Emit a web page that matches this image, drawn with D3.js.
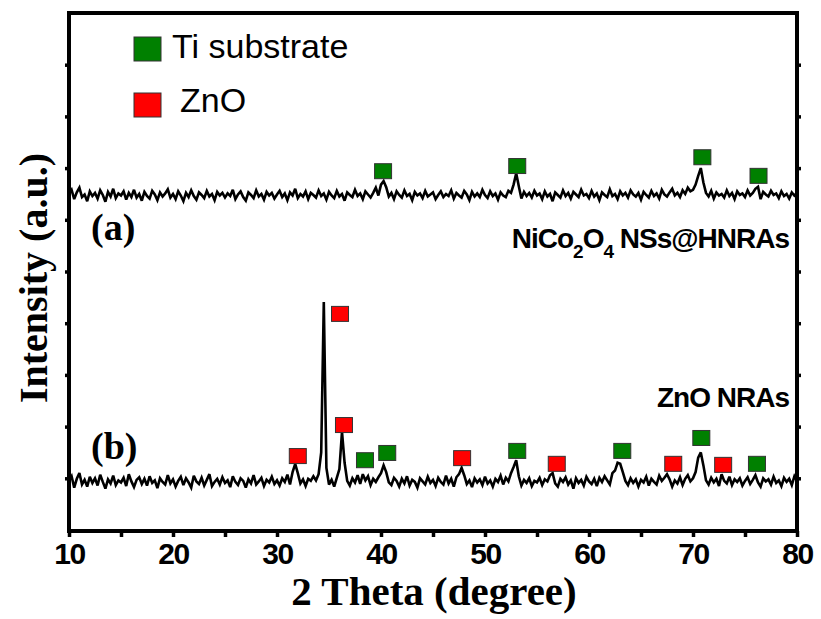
<!DOCTYPE html>
<html>
<head>
<meta charset="utf-8">
<script src="https://cdn.jsdelivr.net/npm/d3@7"></script>
<style>
  body { margin: 0; background: #fff; }
  svg { display: block; }
</style>
</head>
<body>
<div class="visHolder"></div>
<script>
var width = 821,
    height = 619;

// 2 theta from 10 to 80, step 0.25
var thetaStart = 10, thetaStep = 0.25;

// (b) ZnO NRAs, arbitrary units (offset plotted)
var zno = [
  95,104,82,99,110,88,97,84,103,91,100,86,107,93,80,98,90,105,87,96,
  92,101,85,108,94,83,97,102,89,99,86,104,91,96,81,100,93,88,106,90,
  98,84,95,103,87,100,92,82,105,94,89,101,86,97,108,85,93,99,88,102,
  91,96,83,104,93,87,100,95,82,98,90,106,88,94,101,85,97,92,103,89,
  96,86,100,93,107,88,112,128,110,90,98,85,99,95,104,96,108,150,441,120,
  88,97,84,101,118,190,130,95,86,100,92,106,89,108,96,104,87,99,93,102,
  110,125,112,92,87,101,95,84,99,90,104,86,97,93,82,100,94,88,103,91,
  97,85,101,93,88,105,90,99,84,102,108,120,106,89,96,83,100,92,98,87,
  103,90,96,84,99,93,105,88,101,94,110,122,135,104,86,97,91,100,85,95,
  92,101,87,98,94,106,110,90,84,99,93,102,88,96,80,100,91,97,86,103,
  94,89,99,85,101,93,104,96,88,110,115,130,128,112,95,87,100,91,98,84,
  97,92,103,86,99,93,88,105,95,101,108,98,84,96,90,102,87,99,106,94,
  100,112,140,150,125,96,88,101,92,99,85,108,95,90,103,87,98,93,100,86,
  95,102,89,97,106,92,84,100,94,98,88,103,91,96,85,101,93,99,87,104,95
];

// (a) NiCo2O4 NSs@HNRAs
var nico = [
  650,658,640,653,662,644,649,636,655,646,652,641,657,648,635,654,645,660,642,651,
  647,655,639,652,644,658,643,650,637,654,646,641,656,649,638,653,645,651,659,643,
  650,640,655,647,636,652,644,657,646,639,653,648,642,656,645,650,638,654,647,652,
  643,651,646,658,640,649,655,644,637,653,648,642,657,645,650,639,654,647,652,641,
  649,656,644,651,638,653,647,660,642,650,645,655,640,652,648,643,657,646,651,639,
  654,647,642,656,645,650,637,653,648,644,658,646,651,640,655,649,643,652,662,647,
  668,675,663,645,652,640,655,648,643,657,646,650,638,654,647,651,642,656,645,649,
  653,640,648,655,644,650,646,657,641,652,647,643,656,649,638,654,645,651,644,658,
  648,642,655,646,651,639,653,647,644,656,652,668,690,665,641,654,646,652,643,656,
  647,651,640,655,645,650,636,653,648,643,657,646,652,641,654,649,644,658,647,650,
  642,656,645,651,638,653,648,644,659,646,650,640,655,647,652,643,657,649,645,652,
  639,654,648,643,656,646,651,641,658,649,645,653,660,647,652,644,657,650,662,655,
  658,668,685,700,672,652,645,656,641,653,647,650,643,657,646,652,640,655,648,651,
  644,657,647,652,660,664,640,654,649,645,656,648,651,642,655,646,650,641,653,647,652
];

// peak markers
var markTheta = [40.2, 53.1, 70.9, 76.3,
                 32.0, 36.06, 36.44, 38.46, 40.6, 47.8, 53.1, 56.9, 63.2, 68.1, 70.8, 72.9, 76.15];
var markLevel = [694, 704, 721, 685,
                 143, 418, 203, 135, 149, 139, 153, 128, 153, 128, 178, 126, 128];
var markPhase = ['Ti','Ti','Ti','Ti',
                 'ZnO','ZnO','ZnO','Ti','Ti','ZnO','Ti','ZnO','Ti','ZnO','Ti','ZnO','Ti'];

var legendNames = ['Ti substrate', 'ZnO'];
var phaseColor = { 'Ti': '#008000', 'ZnO': '#ff0000' };
var xTicks = [10, 15, 20, 25, 30, 35, 40, 45, 50, 55, 60, 65, 70, 75, 80];
var yTicks = [100, 200, 300, 400, 500, 600, 700, 800, 900];

var svg = d3.select('.visHolder')
  .append('svg')
  .attr('width', width)
  .attr('height', height);

var xScale = d3.scaleLinear().domain([10, 80]).range([69, 797]);
var yScale = d3.scaleLinear().domain([0, 1000]).range([530, 13]);

function toPoints(arr) {
  return arr.map(function (v, i) { return [thetaStart + i * thetaStep, v]; });
}

var line = d3.line()
  .x(function (d) { return xScale(d[0]); })
  .y(function (d) { return yScale(d[1]); });

[zno, nico].forEach(function (s) {
  svg.append('path')
    .datum(toPoints(s))
    .attr('d', line)
    .attr('fill', 'none')
    .attr('stroke', '#000')
    .attr('stroke-width', 2.6)
    .attr('stroke-linejoin', 'miter')
    .attr('stroke-miterlimit', 3);
});

// markers
svg.selectAll('rect.mark')
  .data(markTheta)
  .enter()
  .append('rect')
  .attr('class', 'mark')
  .attr('x', function (d) { return xScale(d) - 8.5; })
  .attr('y', function (d, i) { return yScale(markLevel[i]) - 7.5; })
  .attr('width', 17)
  .attr('height', 15)
  .attr('fill', function (d, i) { return phaseColor[markPhase[i]]; })
  .attr('stroke', '#333')
  .attr('stroke-width', 1);

// axes
var xAxis = d3.axisBottom(xScale)
  .tickValues(xTicks)
  .tickSize(6)
  .tickFormat(function (d) { return d % 10 === 0 ? d : ''; });

var gx = svg.append('g')
  .attr('id', 'x-axis')
  .attr('transform', 'translate(0,531)')
  .call(xAxis);

var yl = svg.append('g')
  .attr('transform', 'translate(69,0)')
  .call(d3.axisLeft(yScale).tickValues(yTicks).tickSize(4).tickFormat(''));
var yr = svg.append('g')
  .attr('transform', 'translate(797,0)')
  .call(d3.axisRight(yScale).tickValues(yTicks).tickSize(4).tickFormat(''));

[gx, yl, yr].forEach(function (g) {
  g.select('.domain').remove();
  g.selectAll('line').attr('stroke', '#000').attr('stroke-width', 3.5);
});
gx.selectAll('text')
  .attr('fill', '#000')
  .attr('dy', '0.71em')
  .attr('y', 12)
  .style('font-family', '"Liberation Sans", Arial, sans-serif')
  .style('font-weight', 'bold')
  .style('font-size', '30px')
  .style('letter-spacing', '-1.5px');

// frame
svg.append('rect')
  .attr('x', 69).attr('y', 13)
  .attr('width', 728).attr('height', 518)
  .attr('fill', 'none')
  .attr('stroke', '#000')
  .attr('stroke-width', 4);

// legend
var sans = '"Liberation Sans", Arial, sans-serif';
legendNames.forEach(function (name, i) {
  var key = i === 0 ? 'Ti' : 'ZnO';
  svg.append('rect')
    .attr('x', 134).attr('y', 37 + i * 56)
    .attr('width', 27).attr('height', 24)
    .attr('fill', phaseColor[key])
    .attr('stroke', '#333').attr('stroke-width', 1);
  svg.append('text')
    .attr('x', i === 0 ? 172 : 180).attr('y', 58 + i * 54)
    .style('font-family', sans)
    .style('font-size', '34px')
    .text(name);
});

// panel labels
var serif = '"Liberation Serif", "Times New Roman", serif';
svg.append('text').attr('x', 91).attr('y', 240)
  .style('font-family', serif).style('font-weight', 'bold').style('font-size', '38px')
  .text('(a)');
svg.append('text').attr('x', 91).attr('y', 459)
  .style('font-family', serif).style('font-weight', 'bold').style('font-size', '38px')
  .text('(b)');

var lab = svg.append('text').attr('x', 789).attr('y', 248)
  .attr('text-anchor', 'end')
  .style('font-family', sans).style('font-weight', 'bold').style('font-size', '28px')
  .style('letter-spacing', '-1px');
lab.append('tspan').text('NiCo');
lab.append('tspan').attr('dy', 10).style('font-size', '19px').text('2');
lab.append('tspan').attr('dy', -10).text('O');
lab.append('tspan').attr('dy', 10).style('font-size', '19px').text('4');
lab.append('tspan').attr('dy', -10).text(' NSs@HNRAs');

svg.append('text').attr('x', 789).attr('y', 407)
  .attr('text-anchor', 'end')
  .style('font-family', sans).style('font-weight', 'bold').style('font-size', '28px')
  .style('letter-spacing', '-1px')
  .text('ZnO NRAs');

// axis titles
svg.append('text')
  .attr('x', 434).attr('y', 605)
  .attr('text-anchor', 'middle')
  .style('font-family', serif).style('font-weight', 'bold').style('font-size', '41px')
  .text('2 Theta (degree)');

svg.append('text')
  .attr('transform', 'translate(47,278) rotate(-90)')
  .attr('text-anchor', 'middle')
  .style('font-family', serif).style('font-weight', 'bold').style('font-size', '40px')
  .text('Intensity (a.u.)');
</script>
</body>
</html>
